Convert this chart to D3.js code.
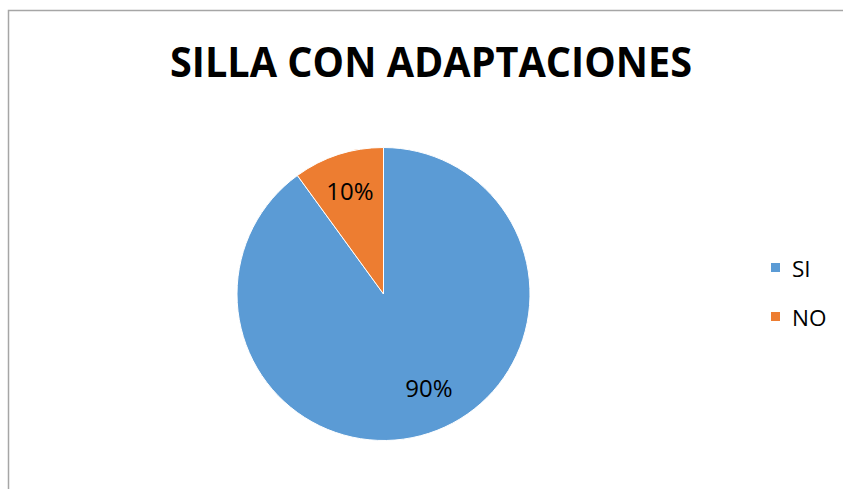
<!DOCTYPE html>
<html>
<head>
<meta charset="utf-8">
<script src="https://cdn.jsdelivr.net/npm/d3@7"></script>
<style>
  body { margin: 0; background: #fff; }
  svg { display: block; font-family: "Open Sans", "Noto Sans", sans-serif; }
</style>
</head>
<body>
<svg id="chart" width="843" height="489"></svg>
<script>
var categories = ["SI", "NO"];
var values = [90, 10];
var labels = ["90%", "10%"];
var colorList = ["#5B9BD5", "#ED7D31"];

var drawPie = function(idName)
{
  var svg = d3.select(idName);

  // frame
  svg.append("rect")
    .attr("x", 8.5)
    .attr("y", 10.5)
    .attr("width", 850)
    .attr("height", 500)
    .attr("fill", "none")
    .attr("stroke", "#a6a6a6")
    .attr("stroke-width", 1.5);

  // title
  svg.append("text")
    .attr("x", 431)
    .attr("y", 77)
    .attr("text-anchor", "middle")
    .attr("font-size", 42)
    .attr("font-weight", "bold")
    .attr("textLength", 522)
    .attr("lengthAdjust", "spacingAndGlyphs")
    .attr("fill", "#000")
    .text("SILLA CON ADAPTACIONES");

  var radius = 146.5;
  var color = d3.scaleOrdinal().domain(categories).range(colorList);

  var pie = d3.pie().sort(null).value(d => d.value);
  var data = categories.map((c, i) => ({ key: c, value: values[i], label: labels[i] }));

  var arc = d3.arc().innerRadius(0).outerRadius(radius);
  var labelArc = d3.arc().innerRadius(radius * 0.74).outerRadius(radius * 0.74);
  // small nudges so the labels sit where excel put them
  var nudge = [[12, -9], [0, 0]];

  var g = svg.append("g")
    .attr("transform", "translate(383.5,294)");

  var slices = g.selectAll("g")
    .data(pie(data))
    .join("g");

  slices.append("path")
    .attr("d", arc)
    .attr("fill", d => color(d.data.key))
    .attr("stroke", "#fff")
    .attr("stroke-width", 1);

  slices.append("text")
    .attr("transform", (d, i) => {
      var c = labelArc.centroid(d);
      return "translate(" + (c[0] + nudge[i][0]) + "," + (c[1] + nudge[i][1]) + ")";
    })
    .attr("text-anchor", "middle")
    .attr("dy", "0.36em")
    .attr("font-size", 24)
    .attr("fill", "#000")
    .text(d => d.data.label);

  // legend
  var legend = svg.append("g")
    .selectAll("g")
    .data(categories)
    .join("g")
      .attr("transform", (d, i) => "translate(771," + (263 + i * 49) + ")");

  legend.append("rect")
    .attr("width", 9)
    .attr("height", 9)
    .attr("fill", d => color(d));

  legend.append("text")
    .attr("x", 21)
    .attr("y", 14)
    .attr("font-size", 22.5)
    .attr("fill", "#000")
    .text(d => d);
}

drawPie("#chart");
</script>
</body>
</html>
